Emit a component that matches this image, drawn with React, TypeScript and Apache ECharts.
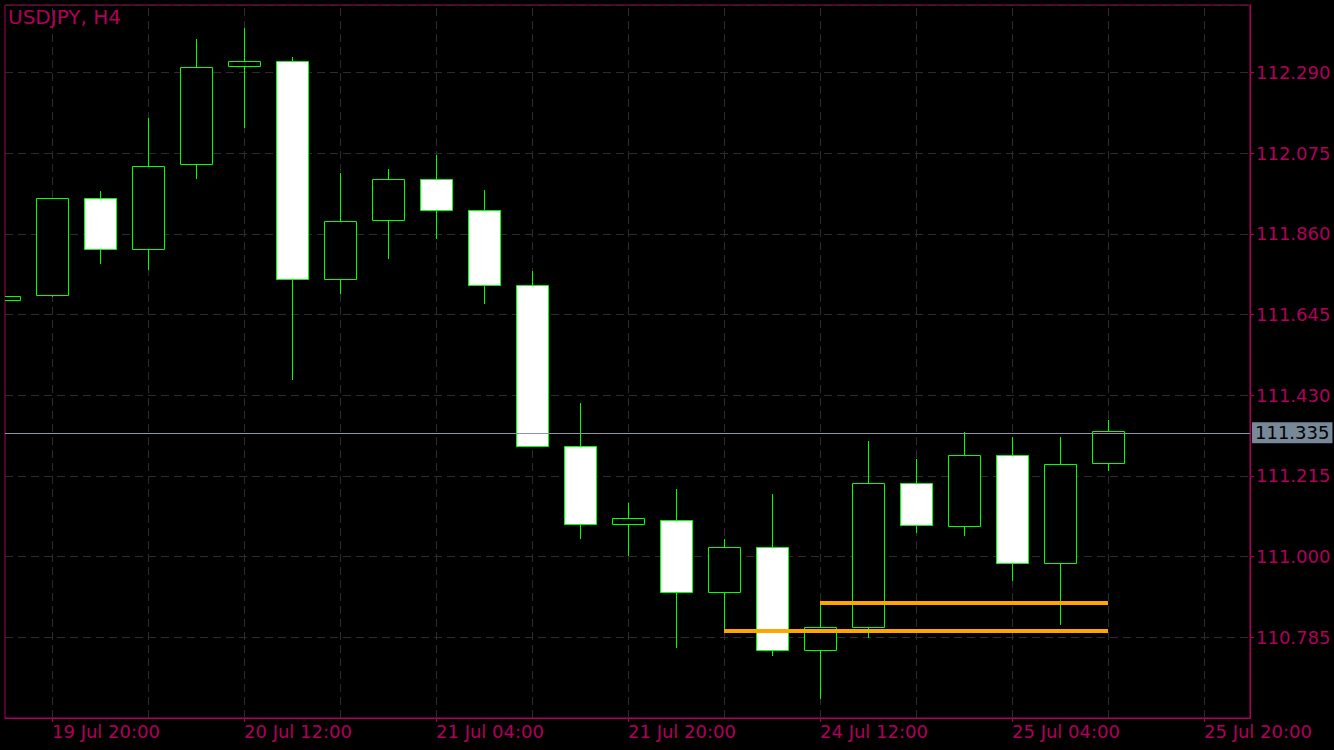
import React, { useEffect, useRef } from "react";
import * as echarts from "echarts";

const symbolTitle = "USDJPY, H4";

const times = [
  "19 Jul 16:00", "19 Jul 20:00",
  "20 Jul 00:00", "20 Jul 04:00", "20 Jul 08:00", "20 Jul 12:00", "20 Jul 16:00", "20 Jul 20:00",
  "21 Jul 00:00", "21 Jul 04:00", "21 Jul 08:00", "21 Jul 12:00", "21 Jul 16:00", "21 Jul 20:00",
  "24 Jul 00:00", "24 Jul 04:00", "24 Jul 08:00", "24 Jul 12:00", "24 Jul 16:00", "24 Jul 20:00",
  "25 Jul 00:00", "25 Jul 04:00", "25 Jul 08:00", "25 Jul 12:00", "25 Jul 16:00", "25 Jul 20:00",
];

const opens = [111.683, 111.697, 111.955, 111.819, 112.046, 112.307, 112.320, 111.739, 111.897, 112.006, 111.923, 111.723, 111.294, 111.086, 111.097, 110.905, 111.025, 110.750, 110.812, 111.196, 111.081, 111.270, 110.982, 111.249];
const highs = [111.694, 111.955, 111.975, 112.168, 112.380, 112.409, 112.332, 112.023, 112.033, 112.071, 111.977, 111.761, 111.409, 111.142, 111.180, 111.047, 111.167, 110.876, 111.308, 111.260, 111.332, 111.319, 111.319, 111.364];
const lows = [111.683, 111.691, 111.781, 111.765, 112.005, 112.141, 111.472, 111.700, 111.794, 111.847, 111.674, 111.294, 111.048, 111.003, 110.757, 110.800, 110.736, 110.621, 110.784, 111.064, 111.056, 110.936, 110.819, 111.229];
const closes = [111.694, 111.955, 111.819, 112.041, 112.304, 112.320, 111.739, 111.894, 112.006, 111.925, 111.725, 111.294, 111.086, 111.102, 110.905, 111.025, 110.750, 110.812, 111.196, 111.084, 111.270, 110.982, 111.246, 111.335];

// horizontal levels (orange lines): [startIndex, endIndex, price]
const levelStarts = [17, 15];
const levelEnds = [23, 23];
const levelPrices = [110.877, 110.803];

// axis ticks
const priceMin = 110.570;
const priceMax = 112.470;
const priceStep = 0.215;
const labelIdx = [1, 5, 9, 13, 17, 21, 25];
const gridIdx = [1, 3, 5, 7, 9, 11, 13, 15, 17, 19, 21, 23, 25];

const FG = "#b0005a";
const FONT = "DejaVu Sans";

export default function App() {
  const ref = useRef<HTMLDivElement>(null);
  useEffect(() => {
    if (!ref.current) return;
    const chart = echarts.init(ref.current, undefined, { renderer: "svg" });
    const data = opens.map((o, i) => [i, o, closes[i], lows[i], highs[i]]);
    const lastClose = closes[closes.length - 1];
    const option: any = {
      animation: false,
      backgroundColor: "#000",
      title: {
        text: symbolTitle,
        left: 8,
        top: 7,
        padding: 0,
        textStyle: { color: FG, fontSize: 20, fontWeight: "normal", fontFamily: FONT },
      },
      grid: {
        left: 5, right: 84, top: 5, bottom: 32,
        show: true, borderColor: FG, borderWidth: 1, backgroundColor: "#000",
      },
      xAxis: {
        type: "value",
        min: 1 / 48,
        max: 1246 / 48,
        axisLine: { show: true, lineStyle: { color: FG, width: 1 } },
        axisTick: { show: true, customValues: labelIdx, length: 4, lineStyle: { color: FG } },
        axisLabel: {
          customValues: labelIdx,
          formatter: (v: number) => times[Math.round(v)] ?? "",
          align: "left",
          color: FG,
          fontSize: 18,
          fontFamily: FONT,
          margin: 4,
        },
        splitLine: { show: false },
      },
      yAxis: {
        type: "value",
        position: "right",
        min: priceMin,
        max: priceMax,
        interval: priceStep,
        scale: true,
        axisLine: { show: true, lineStyle: { color: FG, width: 1 } },
        axisTick: { show: true, length: 4, lineStyle: { color: FG } },
        axisLabel: {
          formatter: (v: number) => v.toFixed(3),
          color: FG,
          fontSize: 18,
          fontFamily: FONT,
          margin: 6,
          showMinLabel: false,
          showMaxLabel: false,
        },
        splitLine: { show: true, lineStyle: { color: "#2c2c2c", type: [8, 5], width: 1 } },
      },
      series: [
        {
          type: "line",
          data: [],
          z: 1,
          silent: true,
          markLine: {
            silent: true,
            z: 1,
            symbol: "none",
            label: { show: false },
            lineStyle: { color: "#2c2c2c", type: [8, 5], width: 1 },
            data: gridIdx.map((v) => ({ xAxis: v })),
          },
        },
        {
          type: "custom",
          z: 10,
          clip: true,
          data,
          encode: { x: 0, y: [1, 2, 3, 4] },
          renderItem: (params: any, api: any) => {
            const i = api.value(0);
            const o = api.value(1);
            const c = api.value(2);
            const l = api.value(3);
            const h = api.value(4);
            const pO = api.coord([i, o]);
            const pC = api.coord([i, c]);
            const pL = api.coord([i, l]);
            const pH = api.coord([i, h]);
            const bw = Math.round((api.size([1, 0])[0] * 2) / 3);
            const x = Math.round(pO[0]) + 0.5;
            const top = Math.round(Math.min(pO[1], pC[1])) + 0.5;
            const bot = Math.round(Math.max(pO[1], pC[1])) + 0.5;
            const bull = c >= o;
            const stroke = "#00ff00";
            return {
              type: "group",
              children: [
                { type: "line", shape: { x1: x, y1: Math.round(pH[1]), x2: x, y2: top }, style: { stroke, lineWidth: 1 } },
                { type: "line", shape: { x1: x, y1: bot, x2: x, y2: Math.round(pL[1]) }, style: { stroke, lineWidth: 1 } },
                {
                  type: "rect",
                  shape: { x: x - bw / 2, y: top, width: bw, height: Math.max(bot - top, 1) },
                  style: { fill: bull ? "#000" : "#fff", stroke, lineWidth: 1 },
                },
              ],
            };
          },
        },
        {
          type: "line",
          data: [],
          z: 12,
          markLine: {
            silent: true,
            z: 12,
            symbol: "none",
            lineStyle: { color: "#8a96a4", type: "solid", width: 1 },
            label: {
              show: true,
              position: "end",
              distance: 2,
              formatter: () => lastClose.toFixed(3),
              color: "#000",
              backgroundColor: "#778899",
              fontSize: 18,
              fontFamily: FONT,
              padding: [2, 3, 1, 3],
            },
            data: [{ yAxis: lastClose }],
          },
        },
        {
          type: "line",
          data: [],
          z: 14,
          markLine: {
            silent: true,
            z: 14,
            symbol: "none",
            label: { show: false },
            lineStyle: { color: "#ffa500", type: "solid", width: 4 },
            data: levelPrices.map((p, k) => [
              { coord: [levelStarts[k], p] },
              { coord: [levelEnds[k], p] },
            ]),
          },
        },
      ],
    };
    chart.setOption(option);
    return () => chart.dispose();
  }, []);
  return (
    <div
      ref={ref}
      style={{ position: "fixed", left: 0, top: 0, width: 1334, height: 750, background: "#000" }}
    />
  );
}
